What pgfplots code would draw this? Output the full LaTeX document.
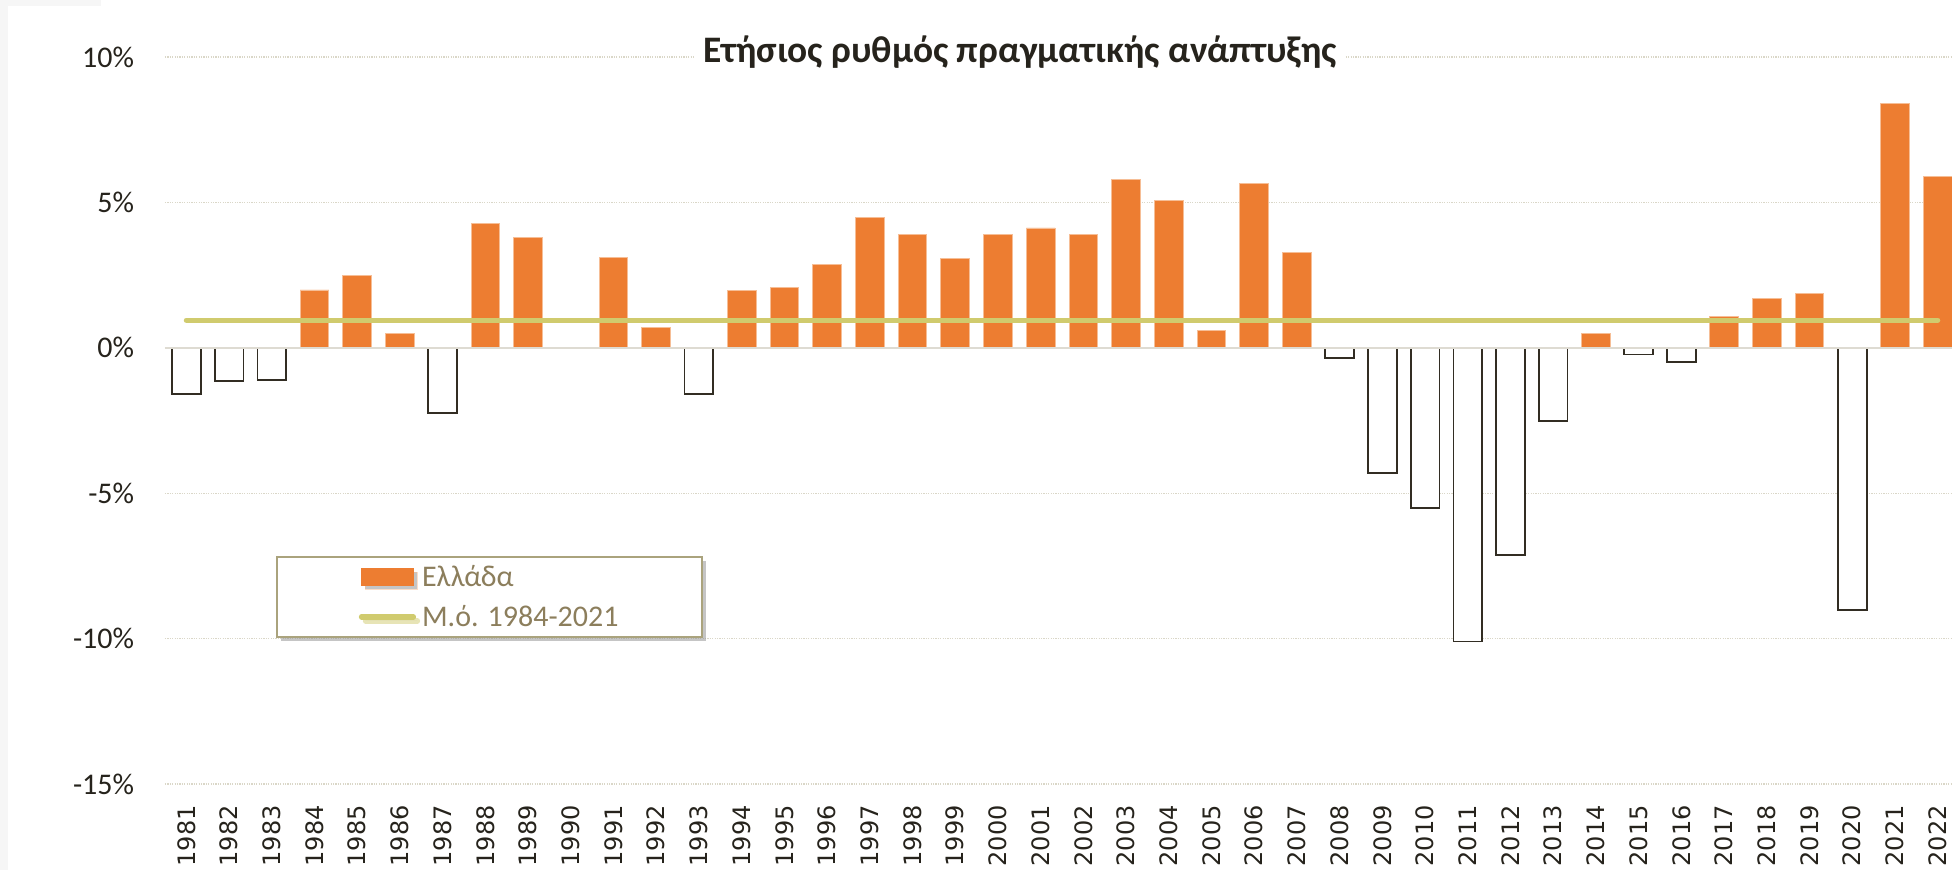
\documentclass[border=0pt]{standalone}
\usepackage{pgfplots}
\pgfplotsset{compat=1.18}
\usepackage{fontspec}
\setmainfont{Carlito}
\newfontfamily\dejavu{DejaVu Sans}
\usetikzlibrary{shadows}
\definecolor{barorange}{RGB}{237,125,49}
\definecolor{baredge}{RGB}{246,190,150}
\definecolor{avgline}{RGB}{208,203,110}
\definecolor{negedge}{RGB}{50,45,35}
\definecolor{ticktext}{RGB}{38,35,28}
\definecolor{legtext}{RGB}{140,126,92}
\definecolor{legborder}{RGB}{170,163,125}
\definecolor{gridc}{RGB}{218,215,200}
\definecolor{zeroc}{RGB}{222,219,210}

\pgfplotstableread{
x y
3 1.99
4 2.50
5 0.49
7 4.29
8 3.79
10 3.11
11 0.69
13 1.98
14 2.09
15 2.87
16 4.48
17 3.90
18 3.08
19 3.91
20 4.12
21 3.91
22 5.80
23 5.06
24 0.60
25 5.66
26 3.28
33 0.49
36 1.09
37 1.70
38 1.87
40 8.40
41 5.90
}\postab

\pgfplotstableread{
x y
0 -1.58
1 -1.14
2 -1.10
6 -2.23
12 -1.60
27 -0.34
28 -4.30
29 -5.50
30 -10.10
31 -7.12
32 -2.51
34 -0.23
35 -0.50
39 -9.02
}\negtab

\begin{document}
\begin{tikzpicture}
\fill[gray!7] (-82.5pt,-43pt) rectangle (-78.5pt,392pt);
\fill[gray!7] (-82.5pt,389pt) rectangle (-32pt,392pt);
\begin{axis}[
  at={(0,0)}, anchor=south west,
  scale only axis,
  width=893.5pt, height=363.5pt,
  xmin=-0.5, xmax=41.336,
  ymin=-15, ymax=10,
  axis line style={draw=none},
  major tick length=0pt,
  xtick={0,...,41},
  xticklabel={\pgfmathparse{int(round(\tick+1981))}\pgfmathresult},
  xticklabel style={yshift=-10.5pt, rotate=90, anchor=east, inner sep=0pt,
    font=\dejavu\fontsize{12}{14}\selectfont, text=ticktext},
  ytick={-15,-10,-5,0,5,10},
  yticklabels={-15\%,-10\%,-5\%,0\%,5\%,10\%},
  yticklabel style={anchor=east, inner sep=0pt, xshift=-15.25pt,
    font=\fontsize{15}{17}\selectfont, text=ticktext},
  ymajorgrids,
  major grid style={draw=gridc, line width=0.6pt, dash pattern=on 0.6pt off 0.6pt},
  clip=false,
  legend style={
    at={(0.0621,0.3136)}, anchor=north west,
    draw=legborder, line width=0.9pt, fill=white,
    inner xsep=0pt, inner ysep=0pt,
    column sep=3pt, row sep=0pt,
    nodes={inner sep=0pt, text height=14.8pt, text depth=5.2pt,
      font=\fontsize{15}{17}\selectfont, text=legtext},
    drop shadow={shadow xshift=2pt, shadow yshift=-2pt, fill=black!45, opacity=0.5},
  },
]
\addplot[ybar, bar shift=0pt, bar width=0.672, fill=barorange, draw=baredge, line width=0.4pt,
  legend image code/.code={
    \path (-41pt,0pt);
    \fill[barorange] (0pt,-4.25pt) rectangle (26pt,4.25pt);
  }] table[x=x,y=y] {\postab};
\addlegendentry{\makebox[140pt][l]{Ελλάδα}}
\addplot[ybar, bar shift=0pt, bar width=0.672, fill=white, draw=negedge, line width=0.9pt, forget plot]
  table[x=x,y=y] {\negtab};
\draw[zeroc, line width=1pt] (axis cs:-0.5,0) -- (axis cs:41.336,0);
\addplot[avgline, line width=2.6pt, line cap=round,
  legend image code/.code={
    \path (-41pt,0pt);
    \draw[avgline, line width=2.6pt, line cap=round] (0pt,0pt) -- (26pt,0pt);
  }] coordinates {(0,0.95) (41,0.95)};
\addlegendentry{\makebox[140pt][l]{Μ.ό. 1984-2021}}
\node[fill=white, inner xsep=4pt, inner ysep=1pt, anchor=base, text=ticktext,
  font=\bfseries\fontsize{18.7}{21}\selectfont]
  at (rel axis cs:0.4785,0.9925) {Ετήσιος ρυθμός πραγματικής ανάπτυξης};
\end{axis}
\pgfresetboundingbox
\path[use as bounding box] (-82.5pt,-43pt) rectangle (893.5pt,392pt);
\end{tikzpicture}
\end{document}
